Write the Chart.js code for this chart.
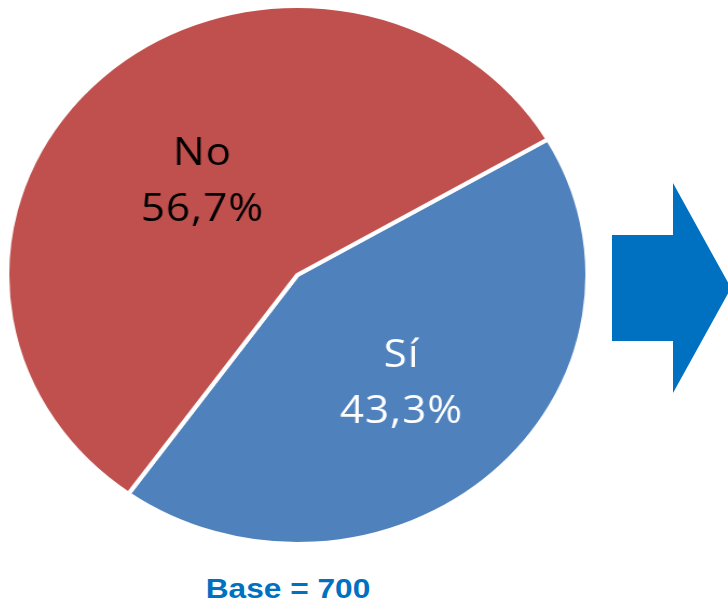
<!DOCTYPE html>
<html>
<head>
<meta charset="utf-8">
<script src="https://cdn.jsdelivr.net/npm/chart.js@4/dist/chart.umd.min.js"></script>
<style>
    html, body { margin: 0; padding: 0; background: #fff; }
    body { width: 728px; height: 606px; position: relative; overflow: hidden; }
    /* pie is drawn as a circle, then stretched into the ellipse of the original */
    #pie-wrap { position: absolute; left: 5px; top: 4px; width: 542px; height: 542px;
                transform: scaleX(1.0787); transform-origin: 0 0; }
    #arrow { position: absolute; left: 612px; top: 183px; width: 119px; height: 210px; background: #0070C0;
             clip-path: polygon(0 52px, 61px 52px, 61px 0, 119px 105px, 61px 210px, 61px 158px, 0 158px); }
    #base { position: absolute; left: 0; top: 575px; width: 576px; text-align: center;
            font: bold 28px "Liberation Sans", Arial, sans-serif; line-height: 28px; color: #0070C0;
            transform: scaleX(1.13); transform-origin: 288px 0; }
</style>
</head>
<body>
<div id="pie-wrap"><canvas id="pieChart" width="542" height="542"></canvas></div>
<div id="arrow"></div>
<div id="base">Base = 700</div>
<script>
// --- Data ---
const categories = ['Sí', 'No'];
const shares = [43.3, 56.7];
const sliceColors = ['#4F81BD', '#C0504D'];
const labelColors = ['#FFFFFF', '#000000'];

// how far out (fraction of radius) each label block sits
const labelRadius = [0.533, 0.485];

const fmtPct = (v) => v.toFixed(1).replace('.', ',') + '%';

// --- Slice labels: name on top, percentage below ---
const sliceLabels = {
    id: 'sliceLabels',
    afterDatasetsDraw(chart) {
        const ctx = chart.ctx;
        const meta = chart.getDatasetMeta(0);
        ctx.save();
        ctx.font = '39px "Open Sans", sans-serif';
        ctx.letterSpacing = '1px';
        ctx.textAlign = 'center';
        ctx.textBaseline = 'alphabetic';
        meta.data.forEach((arc, i) => {
            const { x, y, startAngle, endAngle, outerRadius } = arc.getProps(['x', 'y', 'startAngle', 'endAngle', 'outerRadius'], true);
            const mid = (startAngle + endAngle) / 2;
            const r = outerRadius * labelRadius[i];
            const bx = x + Math.cos(mid) * r;
            const by = y + Math.sin(mid) * r;
            ctx.fillStyle = labelColors[i];
            ctx.fillText(categories[i], bx, by - 28 + 14);
            ctx.fillText(fmtPct(shares[i]), bx, by + 28 + 14);
        });
        ctx.restore();
    }
};

new Chart(document.getElementById('pieChart'), {
    type: 'pie',
    data: {
        labels: categories,
        datasets: [{
            data: shares,
            backgroundColor: sliceColors,
            borderColor: '#FFFFFF',
            borderWidth: 4
        }]
    },
    options: {
        responsive: false,
        animation: false,
        rotation: 59.7, // start of the "Sí" slice, clockwise from top
        layout: { padding: 0 },
        plugins: {
            legend: { display: false },
            tooltip: { enabled: false }
        }
    },
    plugins: [sliceLabels]
});
</script>
</body>
</html>
